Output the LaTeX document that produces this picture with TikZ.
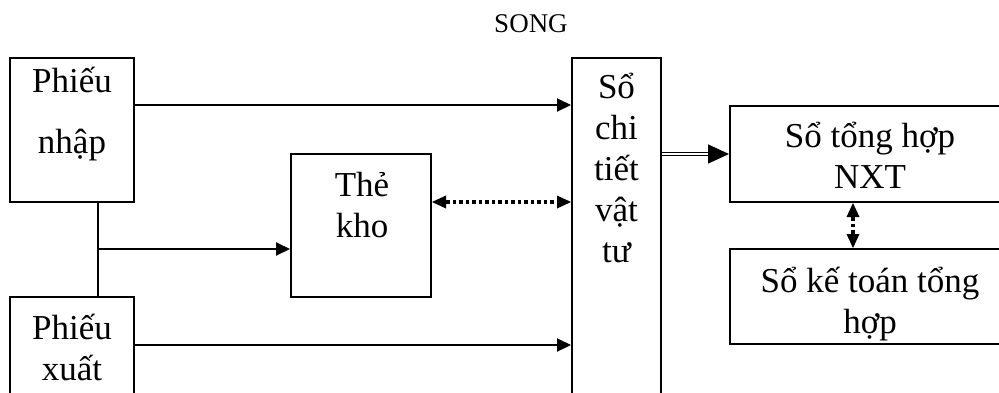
\documentclass[tikz,border=0pt]{standalone}
\usepackage{fontspec}
\setmainfont{Liberation Serif}
\usetikzlibrary{arrows.meta}

\begin{document}
\begin{tikzpicture}[x=1pt,y=-1pt]
\useasboundingbox (0,0) rectangle (999,392);
\clip (0,0) rectangle (999,392);

\tikzstyle{box}=[draw,line width=2pt,inner sep=0pt]
\tikzstyle{word}=[anchor=base,align=center,inner sep=0pt,font=\fontsize{35}{41}\selectfont]
\tikzstyle{tip}=[line width=2pt,-{Triangle[length=14pt,width=13pt]}]
\tikzstyle{dots}=[line width=3.5pt,dash pattern=on 3.5pt off 3pt,
  {Triangle[length=14pt,width=13pt,line width=0pt]}-{Triangle[length=14pt,width=13pt,line width=0pt]}]

% title
\path (531,32) node[anchor=base,inner sep=0pt,font=\fontsize{27}{30}\selectfont] (title) {SONG};

% boxes
\path (72,130)    node[box,minimum width=124pt,minimum height=144pt] (nhap) {};
\path (72,348.5)  node[box,minimum width=124pt,minimum height=103pt] (xuat) {};
\path (361,225.5) node[box,minimum width=140pt,minimum height=143pt] (kho) {};
\path (616.5,229) node[box,minimum width=89pt,minimum height=342pt] (chitiet) {};
\path (870,154)   node[box,minimum width=280pt,minimum height=96pt] (tonghop) {};
\path (870,296.5) node[box,minimum width=280pt,minimum height=95pt] (ketoan) {};

% texts (anchored at the last line)
\path (72,153)    node[word] (nhapText) {Phiếu\\[20pt]nhập};
\path (72,380)    node[word] (xuatText) {Phiếu\\xuất};
\path (362,237)   node[word] (khoText) {Thẻ\\kho};
\path (616.5,262) node[word] (chitietText) {Sổ\\chi\\tiết\\vật\\tư};
\path (870,188)   node[word] (tonghopText) {Sổ tổng hợp\\NXT};
\path (870,333)   node[word] (ketoanText) {Sổ kế toán tổng\\hợp};

% edges
\coordinate (split) at (98,249);
\draw[line width=2pt] (split |- nhap.south) -- (split |- xuat.north);
\draw[tip] (split) -- (kho.west |- split);
\draw[tip] (nhap.east |- tonghop.north) -- (chitiet.west |- tonghop.north);
\draw[tip] (xuat.east |- ketoan.south) -- (chitiet.west |- ketoan.south);
\draw[dots] ([yshift=23.5pt]kho.east) -- ([yshift=23.5pt]kho.east -| chitiet.west);
\draw[line width=1.3pt,double,double distance=2.2pt,-{Triangle[length=21pt,width=19pt]}]
  (chitiet.east |- tonghop.west) -- (tonghop.west);
\draw[dots] ([xshift=-17pt]tonghop.south) -- ([xshift=-17pt]ketoan.north);

\end{tikzpicture}
\end{document}
